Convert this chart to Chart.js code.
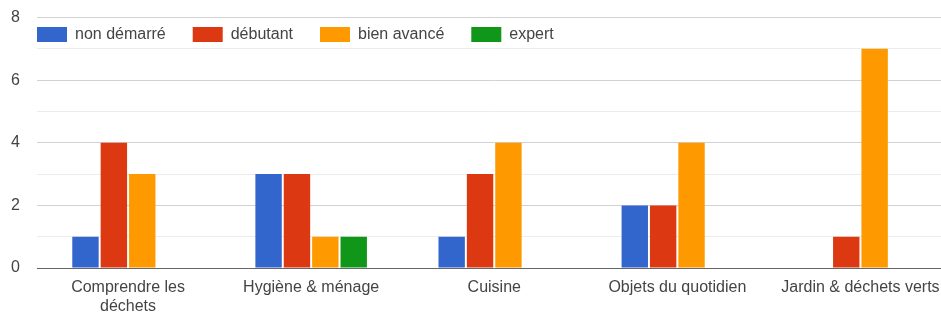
<!DOCTYPE html>
<html>
<head>
<meta charset="utf-8">
<script src="https://cdn.jsdelivr.net/npm/chart.js@4"></script>
<style>
  html, body { margin: 0; padding: 0; background: #fff; overflow: hidden; }
  #wrap { width: 952px; height: 315px; position: relative; }
</style>
</head>
<body>
<div id="wrap"><canvas id="chart"></canvas></div>
<script>
// Data
const categories = [
  ["Comprendre les", "déchets"],
  "Hygiène & ménage",
  "Cuisine",
  "Objets du quotidien",
  "Jardin & déchets verts"
]
const seriesNames = ["non démarré", "débutant", "bien avancé", "expert"]
const nonDemarre = [1, 3, 1, 2, 0]
const debutant = [4, 3, 3, 2, 1]
const bienAvance = [3, 1, 4, 4, 7]
const expert = [0, 1, 0, 0, 0]
const yTicks = [0, 2, 4, 6, 8]

const colors = ["#3366cc", "#dc3912", "#ff9900", "#109618"]
const FONT = "'Liberation Sans', Arial, sans-serif"
const TEXT = "#444"

// Legend drawn inside the plot area, Google-charts style
const insideLegend = {
  id: "insideLegend",
  afterDraw(chart) {
    const ctx = chart.ctx
    ctx.save()
    ctx.font = "16px " + FONT
    ctx.textBaseline = "middle"
    ctx.textAlign = "left"
    let x = chart.chartArea.left + 0.5
    const top = 27
    chart.data.datasets.forEach(ds => {
      ctx.fillStyle = ds.backgroundColor
      ctx.fillRect(x, top, 30, 15)
      ctx.fillStyle = TEXT
      ctx.fillText(ds.label, x + 38, top + 8)
      x += 38 + ctx.measureText(ds.label).width + 27
    })
    ctx.restore()
  }
}

const seriesValues = [nonDemarre, debutant, bienAvance, expert]

new Chart(document.getElementById("chart"), {
  type: "bar",
  data: {
    labels: categories,
    datasets: seriesNames.map((name, i) => ({
      label: name,
      data: seriesValues[i],
      backgroundColor: colors[i],
      borderWidth: 0,
      categoryPercentage: 0.62,
      barPercentage: 0.93
    }))
  },
  options: {
    responsive: true,
    maintainAspectRatio: false,
    animation: false,
    layout: { padding: { top: 17.5, right: 0, left: 0, bottom: 0 } },
    plugins: {
      legend: { display: false },
      tooltip: { enabled: false }
    },
    scales: {
      x: {
        afterFit: axis => {
          axis.height = 47
          axis.paddingLeft = 0
          axis.paddingRight = 0
        },
        grid: { display: false, drawTicks: false },
        border: { display: false },
        ticks: {
          color: TEXT,
          font: { family: FONT, size: 16 },
          padding: 10,
          maxRotation: 0,
          autoSkip: false
        }
      },
      y: {
        min: 0,
        max: 8,
        afterFit: axis => {
          axis.width = 36.5
          axis.paddingTop = 0
          axis.paddingBottom = 0
        },
        border: { display: false },
        grid: {
          drawTicks: false,
          color: c => c.tick.value === 0 ? "#666" : (yTicks.includes(c.tick.value) ? "#d2d2d2" : "#ececec")
        },
        ticks: {
          stepSize: 1,
          padding: 16.5,
          color: TEXT,
          font: { family: FONT, size: 16 },
          callback: v => yTicks.includes(v) ? String(v) : ""
        }
      }
    }
  },
  plugins: [insideLegend]
})
</script>
</body>
</html>
